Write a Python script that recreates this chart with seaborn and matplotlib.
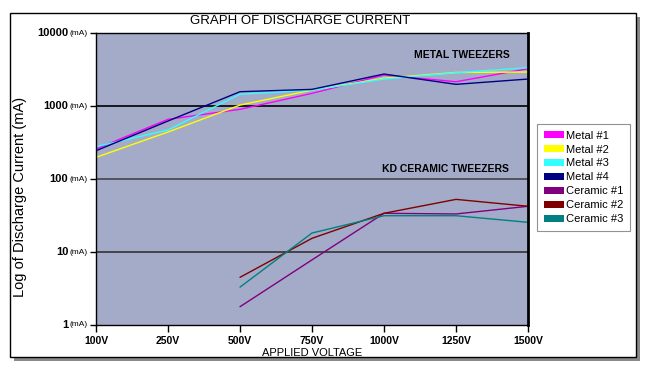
import numpy as np
import pandas as pd
import matplotlib
matplotlib.use("Agg")
import matplotlib.pyplot as plt
import matplotlib.transforms as mtransforms
from matplotlib.patches import Rectangle, Patch
import seaborn as sns

voltages = ["100V", "250V", "500V", "750V", "1000V", "1250V", "1500V"]
metal_1 = [258, 657, 900, 1490, 2660, 2150, 3240]
metal_2 = [198, 440, 1030, 1650, 2400, 2880, 2920]
metal_3 = [277, 470, 1450, 1650, 2340, 2860, 3350]
metal_4 = [244, 623, 1570, 1690, 2740, 1980, 2340]
ceramic_1 = [None, None, 1.78, 7.8, 33.9, 33.2, 42.3]
ceramic_2 = [None, None, 4.5, 15.4, 33.9, 52.6, 42.3]
ceramic_3 = [None, None, 3.3, 18.2, 31.4, 31.4, 25.5]
series_names = ["Metal #1", "Metal #2", "Metal #3", "Metal #4",
                "Ceramic #1", "Ceramic #2", "Ceramic #3"]
series_values = [metal_1, metal_2, metal_3, metal_4, ceramic_1, ceramic_2, ceramic_3]
colors = ["#FF00FF", "#FFFF00", "#33FFFF", "#000080", "#800080", "#800000", "#008080"]
ytick_values = [1, 10, 100, 1000, 10000]
ytick_labels = ["1", "10", "100", "1000", "10000"]

rows = []
for name, vals in zip(series_names, series_values):
    for i, v in enumerate(vals):
        if v is not None:
            rows.append({"pos": i, "Voltage": voltages[i], "Current": v, "Series": name})
df = pd.DataFrame(rows)

sns.set_theme(style="white")
plt.rcParams["font.family"] = ["Liberation Sans", "DejaVu Sans"]
plt.rcParams["text.color"] = "black"
plt.rcParams["axes.labelcolor"] = "black"
plt.rcParams["xtick.color"] = "black"
plt.rcParams["ytick.color"] = "black"

fig = plt.figure(figsize=(6.5, 3.76), dpi=100)
W, H = 650, 376

# outer frame with shadow
fig.patches.append(Rectangle((14 / W, 1 - 361 / H), 626 / W, 344 / H, transform=fig.transFigure,
                             facecolor="#8a8a8a", edgecolor="none", zorder=-10))
fig.patches.append(Rectangle((10 / W, 1 - 357 / H), 626 / W, 344 / H, transform=fig.transFigure,
                             facecolor="white", edgecolor="black", linewidth=1.0, zorder=-9))

ax = fig.add_axes([96 / W, 1 - 325 / H, (528 - 96) / W, (325 - 33) / H])
ax.set_facecolor("#A4ABC8")

sns.lineplot(data=df, x="pos", y="Current", hue="Series", palette=dict(zip(series_names, colors)),
             hue_order=series_names, ax=ax, linewidth=1.0, legend=False, estimator=None, sort=False)

ax.set_yscale("log")
ax.set_xlim(0, 6)
ax.set_ylim(1, 10000)
for yv, c in [(10, "#333333"), (100, "#444444"), (1000, "black")]:
    ax.axhline(yv, color=c, linewidth=1.2, zorder=1)

ax.set_xticks(range(len(voltages)))
ax.set_xticklabels(voltages, fontsize=7.5, fontweight="bold")
ax.set_yticks(ytick_values)
ax.set_yticklabels([])
ax.yaxis.set_minor_locator(matplotlib.ticker.NullLocator())
ax.tick_params(axis="x", direction="out", length=5, width=1, color="black", pad=3, bottom=True)
ax.tick_params(axis="y", direction="out", length=4, width=1, color="black", pad=2, left=True)

trans = mtransforms.blended_transform_factory(ax.transAxes, ax.transData)
for yv, lab in zip(ytick_values, ytick_labels):
    ax.text(-0.0185, yv, "(mA)", transform=trans, ha="right", va="center", fontsize=6)
    ax.text(-0.064, yv, lab, transform=trans, ha="right", va="center", fontsize=8, fontweight="bold")

for side in ["left", "bottom", "top"]:
    ax.spines[side].set_color("black")
    ax.spines[side].set_linewidth(1.0)
ax.spines["right"].set_color("black")
ax.spines["right"].set_linewidth(2.0)

ax.set_xlabel("APPLIED VOLTAGE", fontsize=8)
ax.xaxis.set_label_coords(0.5, -0.08)
ax.set_ylabel("Log of Discharge Current (mA)", fontsize=10.5)
ax.yaxis.set_label_coords(-0.16, 0.438)

fig.text(300 / W, 1 - 21 / H, "GRAPH OF DISCHARGE CURRENT", ha="center", va="center", fontsize=9.5)
ax.text(0.847, 0.925, "METAL TWEEZERS", transform=ax.transAxes, ha="center", va="center",
        fontsize=7.5, fontweight="bold")
ax.text(0.808, 0.535, "KD CERAMIC TWEEZERS", transform=ax.transAxes, ha="center", va="center",
        fontsize=7.5, fontweight="bold")

handles = [Patch(facecolor=c, edgecolor="none", label=n) for n, c in zip(series_names, colors)]
leg = fig.legend(handles=handles, loc="upper left", bbox_to_anchor=(537 / W, 1 - 124 / H),
                 fontsize=8, frameon=True, fancybox=False, handlelength=1.8, handleheight=0.6,
                 handletextpad=0.2, labelspacing=0.35, borderpad=0.6, borderaxespad=0)
leg.get_frame().set_edgecolor("#777777")
leg.get_frame().set_linewidth(0.8)

fig.savefig("out.png", dpi=100)
